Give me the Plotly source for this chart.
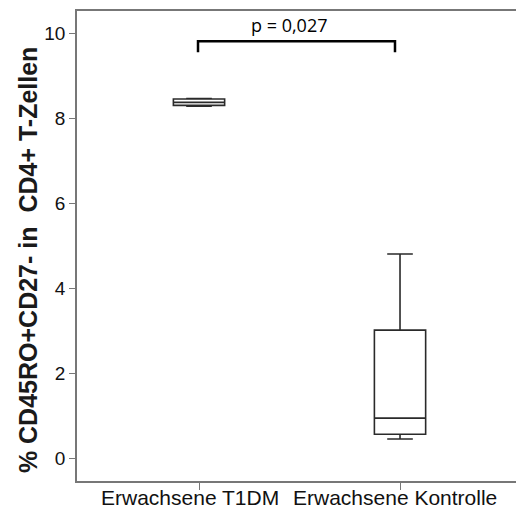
import plotly.graph_objects as go

categories = ["Erwachsene T1DM", "Erwachsene Kontrolle"]
lower_fence = [8.28, 0.45]
q1 = [8.30, 0.56]
median = [8.37, 0.94]
q3 = [8.45, 3.01]
upper_fence = [8.46, 4.80]
y_ticks = [0, 2, 4, 6, 8, 10]
p_label = "p = 0,027"
label_shifts = [-9, -5]

fig = go.Figure()
fig.add_trace(go.Box(
    x=categories,
    lowerfence=lower_fence, q1=q1, median=median, q3=q3, upperfence=upper_fence,
    width=0.255, whiskerwidth=0.5,
    line=dict(color="#2a2a2a", width=1.6),
    fillcolor="white",
    boxpoints=False,
    showlegend=False,
    hoverinfo="skip",
))

# significance bracket
fig.add_shape(type="path", xref="x", yref="y",
              path="M -0.005,9.55 L -0.005,9.81 L 0.975,9.81 L 0.975,9.55",
              line=dict(color="black", width=2.5))
fig.add_annotation(x=0.45, y=10.19, xref="x", yref="y", text=p_label,
                   showarrow=False, font=dict(family="Open Sans", size=18, color="black"))

# category labels (placed as annotations to sit close to the axis)
for cat, sh in zip(categories, label_shifts):
    fig.add_annotation(x=cat, y=-0.036, xref="x", yref="paper", text=cat,
                       showarrow=False, xanchor="center", yanchor="middle", xshift=sh,
                       font=dict(family="Liberation Sans", size=21, color="#111"))

fig.add_annotation(x=-0.1116, y=0.47, xref="paper", yref="paper",
                   text="<b>% CD45RO+CD27- in  CD4+ T-Zellen</b>", textangle=-90,
                   showarrow=False, xanchor="center", yanchor="middle",
                   font=dict(family="Liberation Sans", size=25, color="#1a1a1a"))

fig.update_layout(
    width=516, height=513,
    margin=dict(l=77, r=0, t=11, b=32),
    paper_bgcolor="white", plot_bgcolor="white",
    font=dict(family="Liberation Sans", color="#111"),
    xaxis=dict(type="category", categoryorder="array", categoryarray=categories,
               range=[-0.607, 1.577], showline=True, linecolor="#777", linewidth=1.5,
               mirror=True, ticks="outside", ticklen=7, tickcolor="#777",
               automargin=False, showticklabels=False,
               showgrid=False, zeroline=False),
    yaxis=dict(range=[-0.54, 10.52], tickvals=y_ticks, showline=True, linecolor="#777",
               linewidth=1.5, ticks="outside", ticklen=6, tickcolor="#777",
               automargin=False,
               showgrid=False, zeroline=False, tickfont=dict(size=19, color="#111")),
)

fig.write_html("out.html")
